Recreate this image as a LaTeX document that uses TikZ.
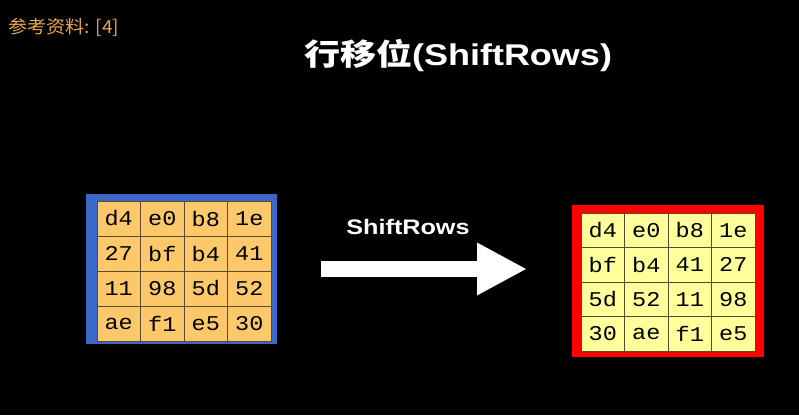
\documentclass[tikz,border=0pt]{standalone}
\usepackage{fontspec}
\setmainfont{Liberation Sans}
\newfontfamily\cjk{Noto Sans CJK SC}[FakeStretch=1.06]
\newfontfamily\widesans{Liberation Sans}[FakeStretch=1.2]
\newfontfamily\widecjk{Noto Sans CJK SC}[FakeStretch=1.2]
\newfontfamily\mono{Liberation Mono}[FakeStretch=1.12]
\usetikzlibrary{arrows.meta, positioning}

\definecolor{refcol}{HTML}{E8A64E}
\definecolor{stateblue}{HTML}{3A68C8}
\definecolor{cellorange}{HTML}{FCC86A}
\definecolor{cellyellow}{HTML}{FFFF9C}
\definecolor{gridline}{HTML}{5C4A2C}

\begin{document}
\begin{tikzpicture}[
  x=1pt, y=-1pt,
  cell/.style={draw=gridline, line width=0.8pt, minimum width=43.5pt, minimum height=35pt,
    inner sep=0pt, font=\mono\fontsize{21}{21}\selectfont, text=black},
  lcell/.style={cell, fill=cellorange},
  rcell/.style={cell, fill=cellyellow, minimum height=34.5pt},
  frame/.style={inner sep=0pt, minimum width=191pt, minimum height=150pt},
  bigarrow/.style={white, line width=16pt, -{Triangle[length=50pt, width=49pt]}}
]
\useasboundingbox[fill=black] (0,0) rectangle (799,415);

% header and title
\node (ref) [anchor=west, text=refcol, font=\cjk\fontsize{18}{18}\selectfont] at (5,27) {参考资料: [4]};
\node (title) [text=white, font=\widesans\bfseries\fontsize{30}{30}\selectfont] at (458,56) {{\widecjk 行移位}(ShiftRows)};

% state before
\node (lframe) [frame, fill=stateblue] at (181.5,269) {};
\foreach \row [count=\r] in {{d4,e0,b8,1e},{27,bf,b4,41},{11,98,5d,52},{ae,f1,e5,30}} {
  \foreach \t [count=\c] in \row {
    \node (l-\r-\c) [lcell] at ({97+43.5*(\c-0.5)},{201+35*(\r-0.5)}) {\t};
  }
}

% state after
\node (rframe) [frame, fill=red, minimum width=192pt, minimum height=152pt] at (668,281) {};
\foreach \row [count=\r] in {{d4,e0,b8,1e},{bf,b4,41,27},{5d,52,11,98},{30,ae,f1,e5}} {
  \foreach \t [count=\c] in \row {
    \node (r-\r-\c) [rcell] at ({581+43.5*(\c-0.5)},{213+34.5*(\r-0.5)}) {\t};
  }
}

% the operation
\coordinate (from) at (321,269);
\coordinate (to) at (527,269);
\draw [bigarrow] (from) -- (to);
\node (op) [text=white, font=\widesans\bfseries\fontsize{21}{21}\selectfont] at (408,227) {ShiftRows};
\end{tikzpicture}
\end{document}
